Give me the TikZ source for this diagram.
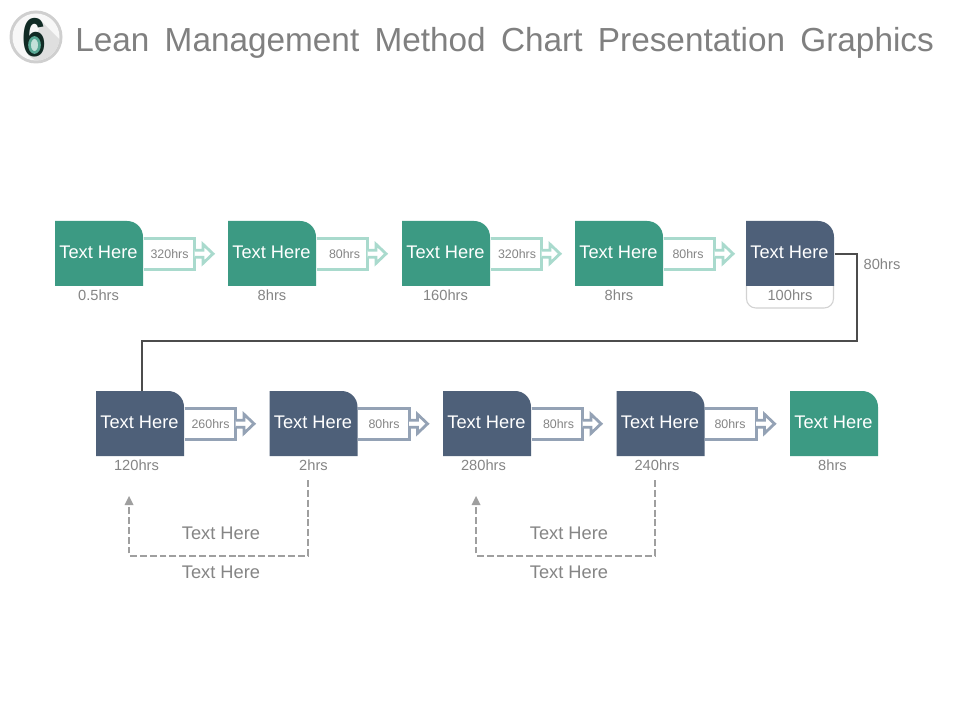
\documentclass[tikz,border=0pt]{standalone}
\usepackage{fontspec}
\usepackage{graphicx}
\setmainfont{Liberation Sans}
\usetikzlibrary{calc}
\definecolor{teal1}{HTML}{3C9A83}
\definecolor{navy1}{HTML}{4E6079}
\definecolor{tealL}{HTML}{A9DACD}
\definecolor{navyL}{HTML}{94A2B5}
\definecolor{txtg}{HTML}{858585}
\definecolor{ttl}{HTML}{808080}
\newcommand{\fs}[1]{\fontsize{#1}{#1}\selectfont}
\tikzset{
  x=0.75pt,y=-0.75pt,
  boxtext/.style={text=white,font=\fs{13.7},inner sep=0pt},
  hrs/.style={text=txtg,font=\fs{11},inner sep=0pt},
  small/.style={text=txtg,font=\fs{9.3},inner sep=0.5pt,fill=white},
  note/.style={text=txtg,font=\fs{13.7},inner sep=0pt},
  bracket/.style={line width=2.2pt,line join=miter},
  dashline/.style={draw=gray!75,line width=1.5pt,dash pattern=on 5.2pt off 2.2pt},
}
% name, left x, top y, colour, hours, hours offset
\newcommand{\flowbox}[6]{%
  \fill[#4] (#2,#3) -- ({#2+72},#3) .. controls ({#2+81},#3) and ({#2+88},{#3+7}) .. ({#2+88},{#3+16}) -- ({#2+88},{#3+65}) -- (#2,{#3+65}) -- cycle;
  \node[boxtext,minimum width=66pt,minimum height=48.75pt,anchor=north west] (#1) at (#2,#3) {};
  \node[boxtext] (#1t) at ({#2+43.5},{#3+31.7}) {Text Here};
  \node[hrs] (#1h) at ({#2+44+#6},{#3+74}) {#5};
}
% from, colour, label, label centre offset
\newcommand{\flowlink}[4]{%
  \coordinate (s) at (#1.east);
  \draw[#2,bracket] ($(s)+(0,-15)$) -- ++(51,0) -- ++(0,31) -- ++(-51,0);
  \draw[#2,line width=2.1pt,fill=white,line join=miter]
    ($(s)+(51,-3.5)$) -- ++(8.5,0) -- ++(0,-6) -- ++(10,9.5) -- ++(-10,9.5) -- ++(0,-6) -- ++(-8.5,0);
  \node[small] (#1lab) at ($(s)+(#4,0)$) {#3};
}
\begin{document}
\begin{tikzpicture}
\useasboundingbox (0,0) rectangle (960,720);
\fill[white] (0,0) rectangle (960,720);
% badge
\fill[gray!38] (36,37) circle[radius=26.5];
\fill[white!94!gray] (36,37) circle[radius=23.5];
\begin{scope}
  \clip (36,37) circle[radius=23.5];
  \fill[gray!25] (42,22) -- (75,55) -- (55,75) -- (28,55) -- cycle;
\end{scope}
\node[inner sep=0pt,font=\fs{41}\bfseries,text=black!72!teal1] (six) at (34,37.5) {\scalebox{.78}[1]{6}};
\draw[teal1!85,line width=2pt,fill=teal1!30] (34.5,45) ellipse[x radius=5,y radius=7.5];
% title
\node[anchor=base west,inner sep=0pt,text=ttl,font=\fs{25}] (title) at (75,52) {Lean\hspace{11.5pt}Management\hspace{11.5pt}Method\hspace{11.5pt}Chart\hspace{11.5pt}Presentation\hspace{11.5pt}Graphics};
% row 1
\flowbox{a}{55}{221}{teal1}{0.5hrs}{-0.5}
\flowbox{b}{228}{221}{teal1}{8hrs}{0}
\flowbox{c}{402}{221}{teal1}{160hrs}{-0.5}
\flowbox{d}{575}{221}{teal1}{8hrs}{0}
\draw[gray!35,line width=0.8pt,rounded corners=7pt] (746.5,270) -- (746.5,308) -- (833.5,308) -- (833.5,270);
\flowbox{e}{746}{221}{navy1}{100hrs}{0}
% row 2
\flowbox{f}{96}{391}{navy1}{120hrs}{-3.5}
\flowbox{g}{269.5}{391}{navy1}{2hrs}{0}
\flowbox{h}{443}{391}{navy1}{280hrs}{-3.5}
\flowbox{i}{616.5}{391}{navy1}{240hrs}{-3.5}
\flowbox{j}{790}{391}{teal1}{8hrs}{-1.5}
% links
\flowlink{a}{tealL}{320hrs}{26}
\flowlink{b}{tealL}{80hrs}{28}
\flowlink{c}{tealL}{320hrs}{26.5}
\flowlink{d}{tealL}{80hrs}{24.5}
\flowlink{f}{navyL}{260hrs}{26}
\flowlink{g}{navyL}{80hrs}{26}
\flowlink{h}{navyL}{80hrs}{27}
\flowlink{i}{navyL}{80hrs}{25}
% long connector
\draw[black!70,line width=1.8pt] (e.east) -| (857,341) -| ($(f.north)+(2,0)$);
\node[hrs] (lab80) at (882,264) {80hrs};
% feedback
\foreach \n/\xa/\xb in {p/129/308,q/476/655}{
  \coordinate (\n s) at (\xb,480);
  \coordinate (\n e) at (\xa,504);
  \draw[dashline] (\n s) -- (\xb,555.5) -- (\xa,555.5) -- (\n e);
  \fill[gray!75] (\xa,496) -- ++(-4.5,9) -- ++(9,0) -- cycle;
}
\node[note] (n1) at (221,533) {Text Here};
\node[note] (n2) at (221,572) {Text Here};
\node[note] (n3) at (569,533) {Text Here};
\node[note] (n4) at (569,572) {Text Here};
\end{tikzpicture}
\end{document}
